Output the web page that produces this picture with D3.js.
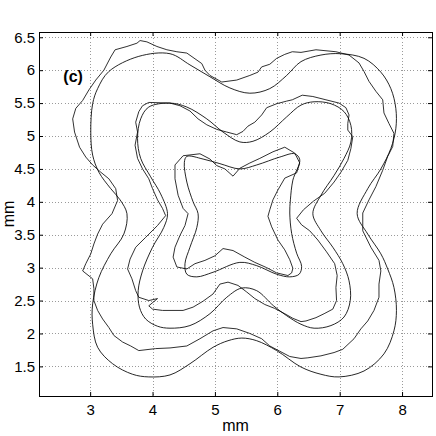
<!DOCTYPE html>
<html>
<head>
<meta charset="utf-8">
<script src="https://cdn.jsdelivr.net/npm/d3@7"></script>
<style>
  html, body { margin: 0; padding: 0; background: #fff; }
  svg text { font-family: "Liberation Sans Narrow", "Liberation Sans", Arial, sans-serif; fill: #000; }
</style>
</head>
<body>
<div id="chart"></div>
<script>
// axis ranges and ticks (mm)
const xDomain = [2.18, 8.48];
const yDomain = [1.05, 6.58];
const xTicks = [3, 4, 5, 6, 7, 8];
const yTicks = [1.5, 2, 2.5, 3, 3.5, 4, 4.5, 5, 5.5, 6, 6.5];
const panelLabel = "(c)";

// fitted (smooth) contours
const outerFit = [
  [3.30,5.98],[3.78,6.21],[4.28,6.25],[4.60,6.08],[4.92,5.90],[5.24,5.73],[5.56,5.65],[5.88,5.72],
  [6.15,5.92],[6.38,6.13],[6.70,6.23],[7.02,6.25],[7.39,6.18],[7.66,5.97],[7.82,5.72],[7.90,5.42],
  [7.90,5.11],[7.82,4.81],[7.66,4.50],[7.45,4.20],[7.28,3.82],[7.45,3.51],[7.66,3.21],[7.77,2.98],
  [7.87,2.70],[7.91,2.35],[7.87,2.04],[7.71,1.69],[7.39,1.43],[6.99,1.34],[6.70,1.38],[6.38,1.49],
  [5.99,1.74],[5.67,1.89],[5.43,1.93],[5.21,1.89],[4.97,1.79],[4.60,1.54],[4.28,1.37],[3.94,1.34],
  [3.68,1.38],[3.36,1.54],[3.12,1.79],[3.04,2.14],[3.04,2.45],[3.14,2.85],[3.33,3.21],[3.54,3.51],
  [3.59,3.82],[3.48,4.03],[3.33,4.20],[3.14,4.45],[3.04,4.71],[3.01,5.06],[3.04,5.49],[3.12,5.72]
];
const middleFit = [
  [3.81,5.26],[3.94,5.44],[4.28,5.50],[4.55,5.44],[4.87,5.26],[5.13,5.06],[5.40,4.91],[5.61,4.92],
  [5.88,5.06],[6.15,5.29],[6.38,5.47],[6.59,5.52],[6.86,5.49],[7.07,5.37],[7.18,5.16],[7.18,4.91],
  [7.07,4.66],[6.91,4.40],[6.70,4.10],[6.57,3.82],[6.70,3.56],[6.89,3.31],[7.05,3.06],[7.15,2.80],
  [7.17,2.50],[7.07,2.25],[6.86,2.12],[6.59,2.08],[6.38,2.14],[6.15,2.27],[5.94,2.42],[5.67,2.65],
  [5.43,2.69],[5.19,2.55],[4.92,2.30],[4.60,2.12],[4.28,2.08],[4.08,2.11],[3.89,2.22],[3.79,2.40],
  [3.77,2.65],[3.84,2.95],[4.00,3.31],[4.18,3.61],[4.24,3.82],[4.13,4.12],[3.97,4.38],[3.81,4.66],
  [3.76,4.96]
];
const innerFit = [
  [4.51,4.60],[4.55,4.69],[4.81,4.65],[5.08,4.58],[5.40,4.50],[5.67,4.56],[6.04,4.68],[6.28,4.73],
  [6.36,4.64],[6.25,4.33],[6.21,4.03],[6.20,3.83],[6.23,3.52],[6.31,3.22],[6.39,3.02],[6.35,2.90],
  [6.20,2.86],[5.99,2.90],[5.67,3.03],[5.40,3.08],[4.97,2.93],[4.71,2.86],[4.55,2.90],[4.52,3.06],
  [4.60,3.31],[4.71,3.61],[4.73,3.82],[4.65,4.00],[4.55,4.30]
];

// measured (ragged) edges
const outerEdge = [
  [3.33,6.20],[3.40,6.31],[3.59,6.36],[3.75,6.41],[3.80,6.45],[3.91,6.43],[4.07,6.36],[4.23,6.31],
  [4.39,6.28],[4.55,6.26],[4.79,6.10],[4.84,6.00],[4.92,5.92],[5.11,5.82],[5.35,5.85],[5.56,5.92],
  [5.69,5.97],[5.75,6.05],[5.88,6.09],[5.99,6.18],[6.12,6.24],[6.24,6.28],[6.38,6.27],[6.62,6.31],
  [6.94,6.28],[7.15,6.23],[7.31,6.11],[7.39,5.98],[7.47,5.83],[7.58,5.68],[7.69,5.55],[7.71,5.35],
  [7.79,5.19],[7.87,5.04],[7.85,4.84],[7.77,4.69],[7.69,4.48],[7.58,4.23],[7.47,4.03],[7.37,3.83],
  [7.37,3.56],[7.50,3.31],[7.63,3.11],[7.66,2.95],[7.63,2.75],[7.63,2.55],[7.55,2.35],[7.45,2.19],
  [7.34,2.07],[7.23,1.92],[7.05,1.76],[6.91,1.71],[6.70,1.66],[6.49,1.63],[6.38,1.62],[6.20,1.65],
  [6.04,1.73],[5.88,1.81],[5.75,1.92],[5.56,2.00],[5.35,2.07],[5.13,2.09],[4.97,2.04],[4.76,1.92],
  [4.55,1.81],[4.28,1.78],[4.05,1.77],[3.78,1.74],[3.65,1.81],[3.52,1.87],[3.38,1.97],[3.30,2.09],
  [3.20,2.22],[3.12,2.35],[3.06,2.50],[3.06,2.68],[3.04,2.83],[2.88,2.95],[2.93,3.06],[3.01,3.21],
  [3.06,3.36],[3.12,3.51],[3.20,3.66],[3.35,3.82],[3.44,4.02],[3.41,4.20],[3.30,4.35],[3.17,4.45],
  [3.04,4.56],[2.93,4.68],[2.83,4.83],[2.75,5.06],[2.72,5.26],[2.77,5.42],[2.88,5.54],[2.98,5.70],
  [3.09,5.85],[3.22,6.00]
];
const middleEdge = [
  [3.78,5.37],[3.84,5.46],[3.94,5.51],[4.28,5.50],[4.44,5.46],[4.60,5.38],[4.73,5.26],[4.87,5.17],
  [5.03,5.10],[5.19,5.06],[5.35,5.02],[5.45,5.07],[5.53,5.15],[5.64,5.21],[5.75,5.32],[5.83,5.43],
  [5.99,5.49],[6.15,5.53],[6.24,5.55],[6.40,5.62],[6.57,5.60],[6.78,5.55],[6.99,5.50],[7.10,5.43],
  [7.15,5.32],[7.13,5.19],[7.13,5.09],[7.21,4.99],[7.18,4.81],[7.13,4.63],[7.02,4.45],[6.91,4.30],
  [6.76,4.13],[6.58,4.01],[6.42,3.88],[6.31,3.75],[6.39,3.65],[6.52,3.56],[6.65,3.42],[6.79,3.24],
  [6.92,3.06],[6.96,2.88],[6.94,2.70],[6.95,2.50],[6.89,2.37],[6.75,2.30],[6.62,2.24],[6.46,2.19],
  [6.38,2.18],[6.25,2.23],[6.12,2.30],[5.96,2.38],[5.80,2.44],[5.64,2.53],[5.51,2.63],[5.37,2.73],
  [5.21,2.78],[5.08,2.75],[4.97,2.60],[4.81,2.49],[4.65,2.40],[4.49,2.35],[4.28,2.35],[4.16,2.35],
  [4.00,2.37],[3.94,2.42],[4.08,2.53],[3.94,2.50],[3.78,2.55],[3.73,2.65],[3.67,2.83],[3.60,2.98],
  [3.64,3.13],[3.73,3.31],[3.89,3.46],[4.08,3.64],[4.21,3.79],[4.16,3.90],[4.08,4.03],[4.00,4.20],
  [3.94,4.35],[3.84,4.50],[3.76,4.66],[3.72,4.86],[3.76,5.06],[3.73,5.21]
];
const innerEdge = [
  [4.49,4.70],[4.76,4.73],[4.92,4.65],[5.03,4.55],[5.16,4.50],[5.29,4.39],[5.40,4.51],[5.56,4.59],
  [5.72,4.66],[5.93,4.76],[6.12,4.83],[6.28,4.74],[6.36,4.59],[6.31,4.44],[6.12,4.36],[6.01,4.18],
  [5.93,4.03],[5.88,3.88],[5.85,3.78],[5.91,3.62],[6.01,3.42],[6.12,3.27],[6.20,3.12],[6.25,2.99],
  [6.23,2.92],[6.17,2.88],[5.99,2.92],[5.83,3.00],[5.64,3.08],[5.48,3.16],[5.29,3.26],[5.13,3.29],
  [5.00,3.18],[4.84,3.11],[4.68,3.06],[4.55,2.98],[4.39,3.01],[4.33,3.16],[4.36,3.31],[4.44,3.49],
  [4.52,3.64],[4.57,3.82],[4.49,3.90],[4.41,4.10],[4.36,4.35],[4.36,4.56]
];

const width = 436, height = 436;
const margin = {top: 32, right: 4, bottom: 40, left: 39};
const plotW = width - margin.left - margin.right,
      plotH = height - margin.top - margin.bottom;

const svg = d3.select('#chart').append('svg')
    .attr('width', width)
    .attr('height', height);

const x = d3.scaleLinear().domain(xDomain).range([0, plotW]);
const y = d3.scaleLinear().domain(yDomain).range([plotH, 0]);

const g = svg.append('g').attr('transform', 'translate(' + margin.left + ',' + margin.top + ')');

g.append('clipPath').attr('id', 'plotclip')
  .append('rect').attr('width', plotW).attr('height', plotH);

// dotted grid
const grid = g.append('g').attr('class', 'grid')
    .attr('stroke', '#9a9a9a').attr('stroke-width', 1)
    .attr('stroke-dasharray', '1,2.2').attr('shape-rendering', 'crispEdges');
grid.selectAll('line.gx').data(xTicks).enter().append('line')
    .attr('class', 'gx')
    .attr('x1', d => Math.round(x(d)) + 0.5).attr('x2', d => Math.round(x(d)) + 0.5)
    .attr('y1', 0).attr('y2', plotH);
grid.selectAll('line.gy').data(yTicks).enter().append('line')
    .attr('class', 'gy')
    .attr('y1', d => Math.round(y(d)) + 0.5).attr('y2', d => Math.round(y(d)) + 0.5)
    .attr('x1', 0).attr('x2', plotW);

// contours
const smooth = d3.line().x(d => x(d[0])).y(d => y(d[1])).curve(d3.curveCatmullRomClosed.alpha(0.5));
const ragged = d3.line().x(d => x(d[0])).y(d => y(d[1])).curve(d3.curveLinearClosed);

const curves = g.append('g').attr('clip-path', 'url(#plotclip)')
    .attr('fill', 'none');

[outerEdge, middleEdge, innerEdge].forEach(pts => {
  curves.append('path').attr('d', ragged(pts))
    .attr('stroke', '#1a1a1a').attr('stroke-width', 0.9).attr('stroke-linejoin', 'round');
});
[outerFit, middleFit, innerFit].forEach(pts => {
  curves.append('path').attr('d', smooth(pts))
    .attr('stroke', '#000').attr('stroke-width', 0.85);
});

// axes, MATLAB style: ticks inside on all four sides
const fmt = d3.format('');
function styleAxis(sel) {
  sel.select('.domain').remove();
  sel.selectAll('.tick line').attr('stroke', '#000');
  sel.selectAll('.tick text').attr('font-size', '15px').attr('fill', '#000');
}
g.append('g').attr('transform', 'translate(0,' + plotH + ')')
  .call(d3.axisBottom(x).tickValues(xTicks).tickFormat(fmt).tickSize(-4).tickPadding(8))
  .call(styleAxis);
g.append('g')
  .call(d3.axisLeft(y).tickValues(yTicks).tickFormat(fmt).tickSize(-4).tickPadding(4))
  .call(styleAxis);
g.append('g')
  .call(d3.axisTop(x).tickValues(xTicks).tickFormat('').tickSize(-4))
  .call(styleAxis);
g.append('g').attr('transform', 'translate(' + plotW + ',0)')
  .call(d3.axisRight(y).tickValues(yTicks).tickFormat('').tickSize(-4))
  .call(styleAxis);

g.append('rect').attr('width', plotW).attr('height', plotH)
  .attr('fill', 'none').attr('stroke', '#000').attr('stroke-width', 1)
  .attr('shape-rendering', 'crispEdges');

// labels
g.append('text')
  .attr('x', x(2.57)).attr('y', y(5.82))
  .attr('font-size', '16px').attr('font-weight', 'bold')
  .style('font-family', '"Liberation Sans", Arial, sans-serif')
  .text(panelLabel);

svg.append('text')
  .attr('x', margin.left + plotW / 2).attr('y', 431)
  .attr('text-anchor', 'middle').attr('font-size', '16px')
  .text('mm');

svg.append('text')
  .attr('transform', 'translate(14,' + (margin.top + plotH / 2) + ') rotate(-90)')
  .attr('text-anchor', 'middle').attr('font-size', '16px')
  .text('mm');
</script>
</body>
</html>
